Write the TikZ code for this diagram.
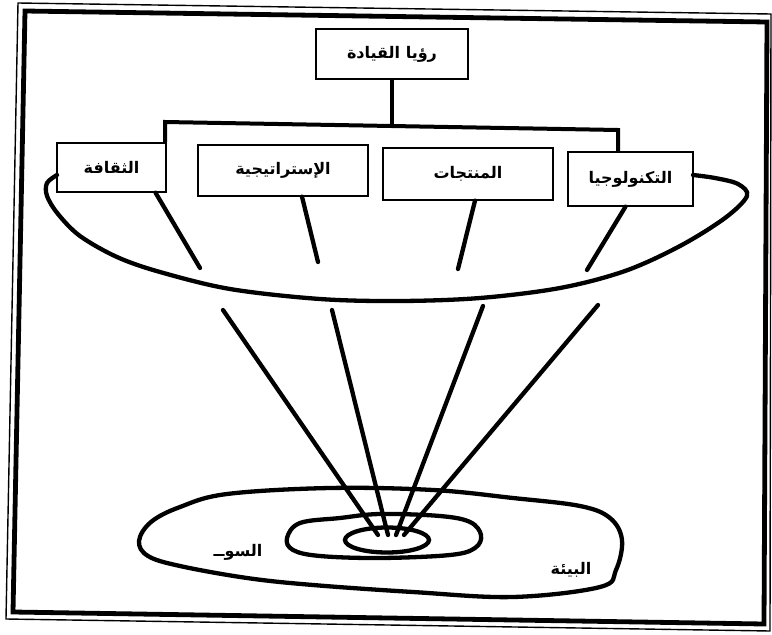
\documentclass[tikz,border=0pt]{standalone}
\usepackage{fontspec}
\newfontfamily\arabicfont[Script=Arabic]{DejaVu Sans}
\TeXXeTstate=1
\usetikzlibrary{shapes.geometric,calc}
\newcommand{\rtltext}[1]{\raisebox{-2pt}{\beginR #1\endR}}
\begin{document}
\begin{tikzpicture}[x=1pt,y=-1pt,
  labelbox/.style={rectangle, draw, line width=1.3pt, fill=white, inner sep=0pt,
    font=\arabicfont\bfseries\fontsize{16}{18}\selectfont},
  heavy/.style={line width=4.3pt, line cap=round, line join=round},
  stemline/.style={line width=4pt, line join=miter},
  frameout/.style={line width=1.4pt},
  framein/.style={line width=4.8pt, line join=miter},
  ringtext/.style={font=\arabicfont\bfseries\fontsize{16}{18}\selectfont, inner sep=0pt}]
\useasboundingbox (0,0) rectangle (772,635);

% double frame round the figure
\draw[frameout] (18,3) -- (771,14) -- (770,631) -- (6,619) -- cycle;
\draw[framein] (25,11) -- (767,22) -- (764,624) -- (13,612) -- cycle;

% leadership vision and the four pillars
\node[labelbox, minimum width=152pt, minimum height=50pt] (vis) at (392,54) {\raisebox{-2pt}{\rtltext{رؤيا القيادة}}};
\node[labelbox, minimum width=109pt, minimum height=49pt] (cul) at (111.5,167.5) {\rtltext{الثقافة}};
\node[labelbox, minimum width=170pt, minimum height=51pt] (str) at (283,170.5) {\rtltext{الإستراتيجية}};
\node[labelbox, minimum width=170pt, minimum height=52pt] (prd) at (468,174) {\rtltext{المنتجات}};
\node[labelbox, minimum width=125pt, minimum height=54pt] (tec) at (630.5,179) {\rtltext{التكنولوجيا}};

% tree bar
\coordinate (bj) at (392,126);
\coordinate (bl) at (165,122);
\coordinate (br) at (618,130);
\draw[stemline] (vis.south) -- (bj);
\draw[stemline] (cul.north -| bl) -- (bl) -- (br) -- (tec.north -| br);

% the bowl holding the pillars
\draw[heavy] plot[smooth, tension=0.55] coordinates {
  (57,175) (47,183) (47,196) (58,214) (80,236) (117,257) (160,272)
  (230,289) (320,299) (400,301) (480,298) (560,288) (625,271)
  (680,246) (725,218) (747,196) (738,184) (715,178) (693,175)};

% short struts from the pillars into the bowl
\coordinate (s1) at (200,268);
\coordinate (s2) at (318,262);
\coordinate (s3) at (458,269);
\coordinate (s4) at (587,270);
\draw[heavy] ($(cul.south)+(44,0)$) -- (s1);
\draw[heavy] ($(str.south)+(19,0)$) -- (s2);
\draw[heavy] ($(prd.south)+(7,0)$) -- (s3);
\draw[heavy] ($(tec.south)+(-5,0)$) -- (s4);

% environment and market rings
\draw[heavy] plot[smooth cycle, tension=0.6] coordinates {
  (139,541) (151,522) (180,507) (227,494) (330,488) (433,490)
  (513,498) (580,506) (610,518) (622,540) (616,570) (600,587)
  (513,597) (413,592) (313,585) (247,578) (180,566) (148,556)};
\draw[heavy] plot[smooth cycle, tension=0.6] coordinates {
  (287,538) (300,523) (340,518) (380,514) (440,516) (470,522)
  (481,535) (475,548) (450,555) (380,558) (320,556) (293,550)};
\node[ellipse, draw, line width=4.3pt, minimum width=84pt, minimum height=25pt, inner sep=0pt] (core) at (387,540) {};

% long rays from the bowl down to the core
\coordinate (t1) at (223,310);
\coordinate (t2) at (332,310);
\coordinate (t3) at (483,306);
\coordinate (t4) at (598,305);
\coordinate (h1) at (378,535);
\coordinate (h2) at (388,535);
\coordinate (h3) at (396,535);
\coordinate (h4) at (404,535);
\draw[heavy] (t1) -- (h1);
\draw[heavy] (t2) -- (h2);
\draw[heavy] (t3) -- (h3);
\draw[heavy] (t4) -- (h4);

% ring labels
\node[ringtext] (mkt) at (238,552) {\beginR السوــ\endR};
\node[ringtext] (env) at (571,570) {\beginR البيئة\endR};
\end{tikzpicture}
\end{document}
